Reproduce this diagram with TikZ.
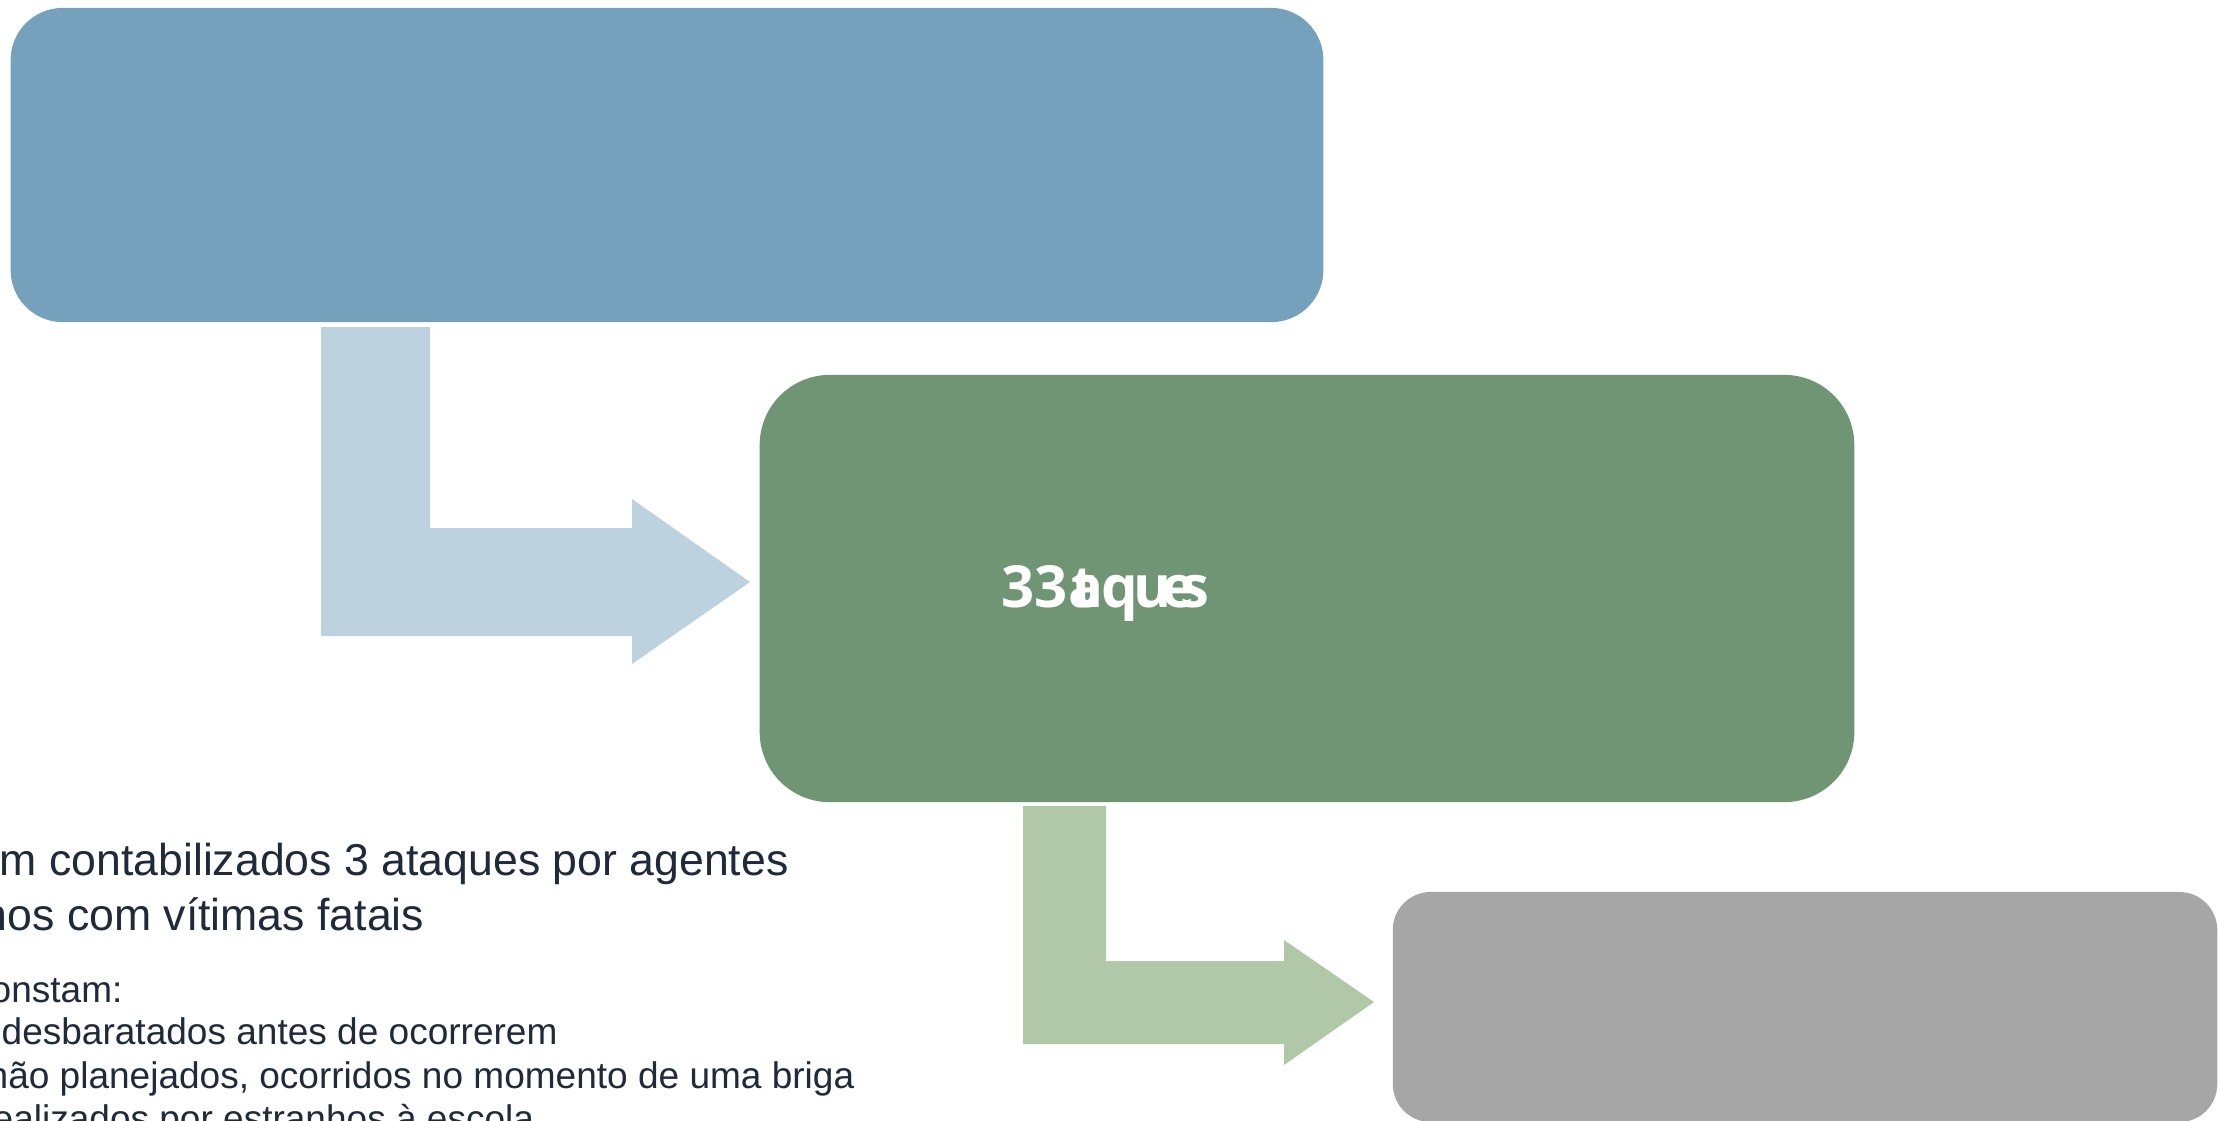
\documentclass[tikz,border=0pt]{standalone}
\usepackage{fontspec}
\setmainfont{Liberation Sans}
\newfontfamily\boldfont{Open Sans}[BoldFont={Open Sans Bold}]
\definecolor{boxblue}{HTML}{75A1BC}
\definecolor{arrowblue}{HTML}{BCD2DF}
\definecolor{boxgreen}{HTML}{709575}
\definecolor{arrowgreen}{HTML}{B0C8A8}
\definecolor{boxgray}{HTML}{A6A6A6}
\definecolor{txt}{HTML}{1F2A3A}
\begin{document}
\begin{tikzpicture}[x=0.01cm,y=-0.01cm,
  box/.style={draw=none,inner sep=0pt,rectangle},
  bigline/.style={anchor=base west,inner sep=0pt,text=txt,font=\fontsize{12.69pt}{15.6pt}\selectfont},
  smallline/.style={anchor=base west,inner sep=0pt,text=txt,font=\fontsize{10.53pt}{12.3pt}\selectfont},
  glyph/.style={anchor=base west,inner sep=0pt,text=white,font=\boldfont\bfseries\fontsize{16.5pt}{19pt}\selectfont}]
\clip (0,0) rectangle (2218,1120);
\fill[white] (0,0) rectangle (2218,1120);

% boxes
\node[box,fill=boxblue,rounded corners=0.52cm,minimum width=13.12cm,minimum height=3.14cm] (blue) at (667,165) {};
\node[box,fill=boxgreen,rounded corners=0.70cm,minimum width=10.94cm,minimum height=4.27cm] (green) at (1307,588.5) {};
\node[box,fill=boxgray,rounded corners=0.38cm,minimum width=8.24cm,minimum height=2.30cm] (gray) at (1805,1007) {};

% bent arrow 1 (blue box -> green box)
\coordinate (a1tip) at (750,582);
\fill[arrowblue] (321,327) -- (430,327) -- (430,528) -- (632,528) -- (632,499) -- (a1tip) -- (632,664) -- (632,636) -- (321,636) -- cycle;

% bent arrow 2 (green box -> gray box)
\coordinate (a2tip) at (1374,1002);
\fill[arrowgreen] (1023,806) -- (1106,806) -- (1106,961) -- (1284,961) -- (1284,940) -- (a2tip) -- (1284,1065) -- (1284,1044) -- (1023,1044) -- cycle;

% label in green box (glyphs overlapping as in the picture)
\node[glyph] (g33) at (1001,607) {33};
\node[glyph] (ga1) at (1068,607) {a};
\node[glyph] (gt) at (1071,607) {t};
\node[glyph] (gq) at (1101,607) {q};
\node[glyph] (gu) at (1133,607) {u};
\node[glyph] (ge) at (1161,607) {e};
\node[glyph] (gs) at (1180,607) {s};

% text, bottom left
\node[bigline] (l1) at (-1,875) {m contabilizados 3 ataques por agentes};
\node[bigline] (l2) at (-18,930) {nos com vítimas fatais};
\node[smallline] (l3) at (-10,1002) {onstam:};
\node[smallline] (l4) at (1,1044) {desbaratados antes de ocorrerem};
\node[smallline] (l5) at (-13,1088) {não planejados, ocorridos no momento de uma briga};
\node[smallline] (l6) at (-8,1131) {ealizados por estranhos à escola};
\end{tikzpicture}
\end{document}
